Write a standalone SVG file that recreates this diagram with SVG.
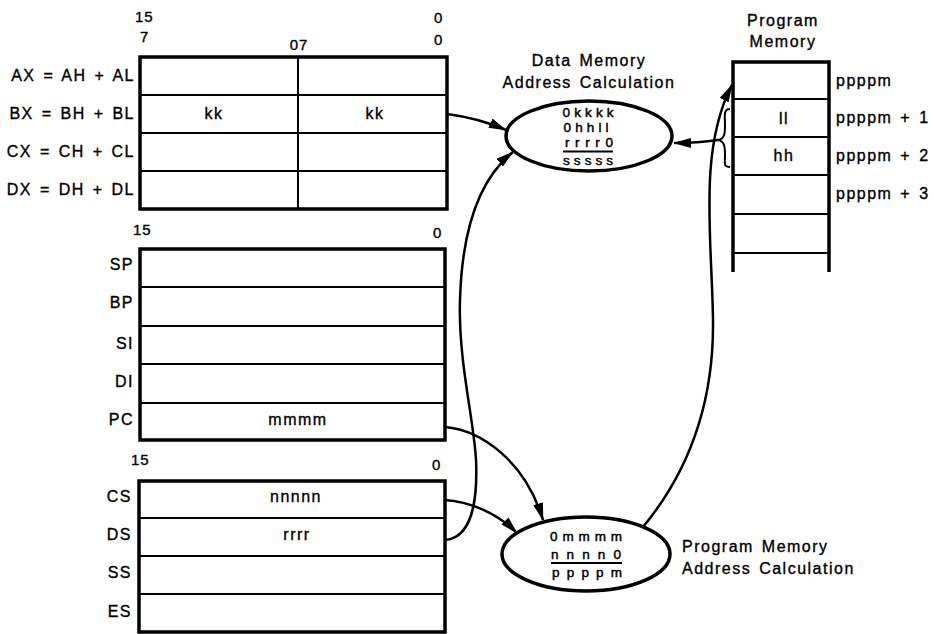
<svg xmlns="http://www.w3.org/2000/svg" width="934" height="634" viewBox="0 0 934 634">
<style>
  text { font-family: "Liberation Sans", Arial, sans-serif; fill: #000; }
  .lbl { font-size: 16px; letter-spacing: 1.5px; word-spacing: 2px; stroke: #000; stroke-width: 0.35; }
  .lblr { font-size: 16px; letter-spacing: 1.5px; word-spacing: 2px; text-anchor: end; stroke: #000; stroke-width: 0.35; }
  .bit { font-size: 15px; letter-spacing: 1px; stroke: #000; stroke-width: 0.35; }
  .mid { text-anchor: middle; }
  .calc { font-size: 13.5px; text-anchor: middle; stroke: #000; stroke-width: 0.45; }
  .outer { fill: #fff; stroke: #000; stroke-width: 3.5; }
  .row { stroke: #000; stroke-width: 2; fill: none; }
  .thick { stroke: #000; stroke-width: 3.5; fill: none; }
  .ell { fill: #fff; stroke: #000; stroke-width: 3.5; }
  .conn { fill: none; stroke: #000; stroke-width: 2.5; }
  .sum { stroke: #000; stroke-width: 1.8; }
</style>
<defs>
  <marker id="arr" viewBox="0 0 18 10" refX="17" refY="5" markerWidth="18" markerHeight="10" markerUnits="userSpaceOnUse" orient="auto">
    <path d="M0,0 L18,5 L0,10 z" fill="#000"/>
  </marker>
</defs>
<rect width="934" height="634" fill="#fff"/>

<!-- General registers -->
<g id="general-registers">
  <text class="bit" x="135" y="22">15</text>
  <text class="bit" x="140" y="42">7</text>
  <text class="bit mid" x="299" y="50">07</text>
  <text class="bit" x="434" y="23">0</text>
  <text class="bit" x="434" y="45">0</text>
  <rect class="outer" x="140" y="57" width="307" height="152"/>
  <line class="row" x1="298" y1="57" x2="298" y2="209"/>
  <line class="row" x1="140" y1="95" x2="447" y2="95"/>
  <line class="row" x1="140" y1="133" x2="447" y2="133"/>
  <line class="row" x1="140" y1="171" x2="447" y2="171"/>
  <text class="lblr" x="135" y="81">AX = AH + AL</text>
  <text class="lblr" x="135" y="119">BX = BH + BL</text>
  <text class="lblr" x="135" y="157">CX = CH + CL</text>
  <text class="lblr" x="135" y="195">DX = DH + DL</text>
  <text class="lbl mid" x="214" y="119">kk</text>
  <text class="lbl mid" x="375" y="119">kk</text>
</g>

<!-- Pointer / index registers -->
<g id="pointer-registers">
  <text class="bit" x="133" y="235">15</text>
  <text class="bit" x="433" y="238">0</text>
  <rect class="outer" x="140" y="249" width="305" height="191"/>
  <line class="row" x1="140" y1="287" x2="445" y2="287"/>
  <line class="row" x1="140" y1="326" x2="445" y2="326"/>
  <line class="row" x1="140" y1="364" x2="445" y2="364"/>
  <line class="row" x1="140" y1="403" x2="445" y2="403"/>
  <text class="lblr" x="134" y="270">SP</text>
  <text class="lblr" x="134" y="308">BP</text>
  <text class="lblr" x="134" y="349">SI</text>
  <text class="lblr" x="134" y="387">DI</text>
  <text class="lblr" x="134" y="425">PC</text>
  <text class="lbl mid" x="298" y="425">mmmm</text>
</g>

<!-- Segment registers -->
<g id="segment-registers">
  <text class="bit" x="131" y="465">15</text>
  <text class="bit" x="432" y="470">0</text>
  <rect class="outer" x="139" y="481" width="306" height="151"/>
  <line class="row" x1="139" y1="518" x2="445" y2="518"/>
  <line class="row" x1="139" y1="556" x2="445" y2="556"/>
  <line class="row" x1="139" y1="594" x2="445" y2="594"/>
  <text class="lblr" x="132" y="502">CS</text>
  <text class="lblr" x="132" y="540">DS</text>
  <text class="lblr" x="132" y="578">SS</text>
  <text class="lblr" x="132" y="617">ES</text>
  <text class="lbl mid" x="296" y="502">nnnnn</text>
  <text class="lbl mid" x="297" y="540">rrrr</text>
</g>

<!-- Program memory -->
<g id="program-memory">
  <text class="lbl mid" x="783" y="26">Program</text>
  <text class="lbl mid" x="783" y="47">Memory</text>
  <line class="row" x1="733" y1="99" x2="829" y2="99"/>
  <line class="row" x1="733" y1="137" x2="829" y2="137"/>
  <line class="row" x1="733" y1="175" x2="829" y2="175"/>
  <line class="row" x1="733" y1="214" x2="829" y2="214"/>
  <line class="row" x1="733" y1="253" x2="829" y2="253"/>
  <path class="thick" d="M733,272 L733,62 L829,62 L829,272"/>
  <text class="lbl mid" x="784" y="124">ll</text>
  <text class="lbl mid" x="784" y="161">hh</text>
  <text class="lbl" x="836" y="86">ppppm</text>
  <text class="lbl" x="836" y="123">ppppm + 1</text>
  <text class="lbl" x="836" y="161">ppppm + 2</text>
  <text class="lbl" x="836" y="199">ppppm + 3</text>
  <path class="row" d="M730,109 C723,109 725,117 725,124 C725,133 725,139 718,140 C725,141 725,148 725,156 C725,163 723,167 730,167"/>
</g>

<!-- Data memory address calculation -->
<g id="data-address-calc">
  <text class="lbl mid" x="589" y="66">Data Memory</text>
  <text class="lbl mid" x="589" y="88">Address Calculation</text>
  <ellipse class="ell" cx="589" cy="136" rx="83" ry="35"/>
  <text class="calc" x="588" y="117" textLength="51" lengthAdjust="spacing">0kkkk</text>
  <text class="calc" x="586" y="132" textLength="45" lengthAdjust="spacing">0hhll</text>
  <text class="calc" x="589" y="147" textLength="48" lengthAdjust="spacing">rrrr0</text>
  <line class="sum" x1="563" y1="151.5" x2="613" y2="151.5"/>
  <text class="calc" x="588" y="165" textLength="50" lengthAdjust="spacing">sssss</text>
</g>

<!-- Program memory address calculation -->
<g id="program-address-calc">
  <ellipse class="ell" cx="586" cy="554" rx="84" ry="37"/>
  <text class="calc" x="586" y="541" textLength="72" lengthAdjust="spacing">0mmmm</text>
  <text class="calc" x="586" y="559" textLength="70" lengthAdjust="spacing">nnnn0</text>
  <line class="sum" x1="551" y1="563" x2="622" y2="563"/>
  <text class="calc" x="587" y="577" textLength="70" lengthAdjust="spacing">ppppm</text>
  <text class="lbl" x="682" y="552">Program Memory</text>
  <text class="lbl" x="682" y="574">Address Calculation</text>
</g>

<!-- Connectors -->
<g id="connectors">
  <path class="conn" marker-end="url(#arr)" d="M447,114 C470,117 488,122 506,130"/>
  <path class="conn" marker-end="url(#arr)" d="M718,140 C705,142 690,143 674,143"/>
  <path class="conn" marker-end="url(#arr)" d="M445,540 C470,538 478,505 476,460 C474,420 458,360 460,300 C462,230 478,180 513,152"/>
  <path class="conn" marker-end="url(#arr)" d="M445,427 C480,430 525,460 543,520"/>
  <path class="conn" marker-end="url(#arr)" d="M445,500 C472,502 498,514 517,533"/>
  <path class="conn" marker-end="url(#arr)" d="M643,527 C690,470 714,400 713,320 C712,240 698,150 732,85"/>
</g>
</svg>
